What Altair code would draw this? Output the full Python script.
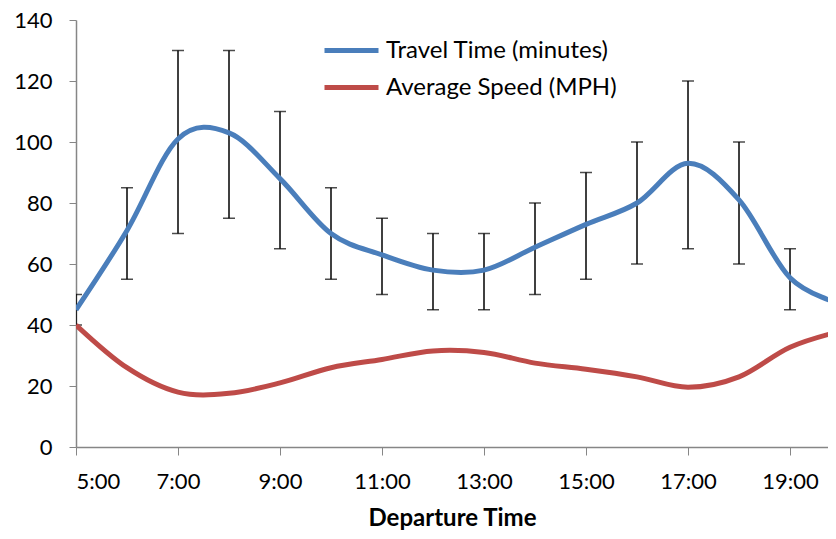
import altair as alt
import pandas as pd

hours = [5, 6, 7, 8, 9, 10, 11, 12, 13, 14, 15, 16, 17, 18, 19, 20]
travel_time = [45, 71, 101, 103, 88, 70, 63, 58, 58, 65.5, 73, 80, 93, 81, 55.5, 47]
avg_speed = [40, 26, 18, 17.6, 21, 26, 28.7, 31.5, 31, 27.5, 25.5, 23, 19.6, 23, 32.7, 38]

err_hours = [5, 6, 7, 8, 9, 10, 11, 12, 13, 14, 15, 16, 17, 18, 19]
err_low = [40, 55, 70, 75, 65, 55, 50, 45, 45, 50, 55, 60, 65, 60, 45]
err_high = [50, 85, 130, 130, 110, 85, 75, 70, 70, 80, 90, 100, 120, 100, 65]

series_names = ["Travel Time (minutes)", "Average Speed (MPH)"]
series_colors = ["#4A7EBB", "#BE4B48"]

rows = []
for h, t, s in zip(hours, travel_time, avg_speed):
    rows.append({"hour": h, "value": t, "series": series_names[0]})
    rows.append({"hour": h, "value": s, "series": series_names[1]})
lines_df = pd.DataFrame(rows)
err_df = pd.DataFrame({"hour": err_hours, "low": err_low, "high": err_high})

FONT = "Lato"
x_scale = alt.Scale(domain=[5, 19.745], nice=False, zero=False)
y_scale = alt.Scale(domain=[0, 140], nice=False)

x_axis = alt.Axis(
    values=[5, 7, 9, 11, 13, 15, 17, 19],
    labelExpr="datum.value + ':00'",
    title="Departure Time",
)
y_axis = alt.Axis(
    values=[0, 20, 40, 60, 80, 100, 120, 140],
    title=None,
)

lines = alt.Chart(lines_df).mark_line(
    interpolate="cardinal", strokeWidth=5, clip=True
).encode(
    x=alt.X("hour:Q", scale=x_scale, axis=x_axis),
    y=alt.Y("value:Q", scale=y_scale, axis=y_axis),
    color=alt.Color(
        "series:N",
        scale=alt.Scale(domain=series_names, range=series_colors),
        legend=alt.Legend(
            title=None,
            orient="none",
            legendX=246,
            legendY=12,
            symbolType="stroke",
            symbolSize=2916,
            symbolStrokeWidth=5,
            labelFontSize=24,
            labelFont=FONT,
            labelColor="#000000",
            labelOffset=5,
            labelLimit=0,
            clipHeight=37,
            rowPadding=0,
        ),
    ),
    detail="series:N",
)

rules = alt.Chart(err_df).mark_rule(color="black", strokeWidth=1.5, clip=True).encode(
    x=alt.X("hour:Q", scale=x_scale, axis=x_axis),
    y=alt.Y("low:Q", scale=y_scale, axis=y_axis),
    y2="high:Q",
)
cap_low = alt.Chart(err_df).mark_tick(
    color="black", orient="horizontal", size=12, thickness=1.5, clip=True
).encode(x=alt.X("hour:Q", scale=x_scale, axis=x_axis),
         y=alt.Y("low:Q", scale=y_scale, axis=y_axis))
cap_high = alt.Chart(err_df).mark_tick(
    color="black", orient="horizontal", size=12, thickness=1.5, clip=True
).encode(x=alt.X("hour:Q", scale=x_scale, axis=x_axis),
         y=alt.Y("high:Q", scale=y_scale, axis=y_axis))

chart = alt.layer(rules, cap_low, cap_high, lines).properties(
    width=752,
    height=427,
    autosize=alt.AutoSizeParams(type="none"),
    padding={"left": 68, "top": 12, "right": 0, "bottom": 84},
).configure_view(stroke=None).configure_axis(
    labelFont=FONT,
    labelFontSize=22,
    labelColor="#000000",
    titleFont=FONT,
    titleFontSize=24,
    titleFontWeight="bold",
    titleColor="#000000",
    domainWidth=1.5,
    domainColor="#868686",
    tickColor="#868686",
    grid=False,
).configure_axisX(
    tickSize=8,
    labelPadding=16,
    titlePadding=14,
).configure_axisY(
    tickSize=7,
    labelPadding=17,
)

chart.save("out.html", embed_options={"renderer": "svg", "actions": False})
